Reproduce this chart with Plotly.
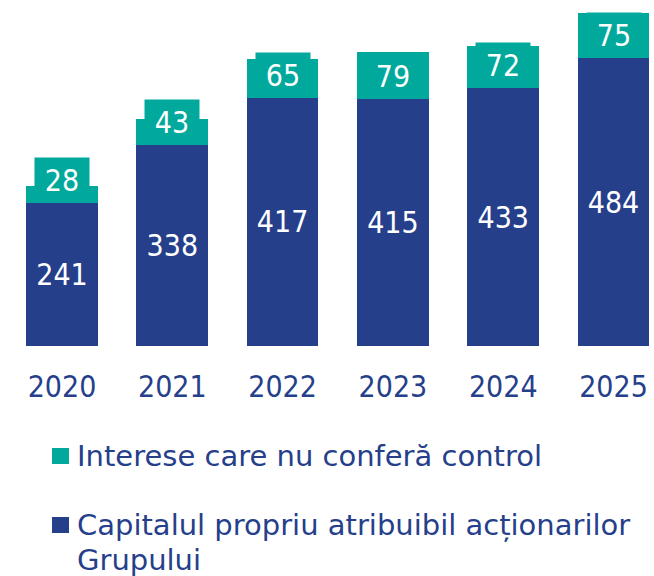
import plotly.graph_objects as go

years = ["2020", "2021", "2022", "2023", "2024", "2025"]
equity_group = [241, 338, 417, 415, 433, 484]
non_controlling = [28, 43, 65, 79, 72, 75]

legend_names = ["Interese care nu conferă control",
                "Capitalul propriu atribuibil acționarilor<br>Grupului"]

NAVY = "#263F8B"
TEAL = "#00A99C"
FONT = "DejaVu Sans Condensed, Liberation Sans Narrow, DejaVu Sans"
LEGEND_FONT = "DejaVu Sans, Verdana, sans-serif"

W, H = 654, 576
PLOT_BOTTOM = 346  # pixel row of the x axis

fig = go.Figure()
fig.add_trace(go.Bar(
    x=years, y=equity_group, width=0.65, marker_color=NAVY,
    marker_line=dict(width=0),
    text=[str(v) for v in equity_group], textposition="inside",
    insidetextanchor="middle", textangle=0, constraintext="none",
    insidetextfont=dict(color="white", size=30, family=FONT),
    showlegend=False, name=legend_names[1],
))
fig.add_trace(go.Bar(
    x=years, y=non_controlling, width=0.65, marker_color=TEAL,
    marker_line=dict(width=0), showlegend=False, name=legend_names[0],
))

# value boxes on the teal segments (anchored at the segment base)
for i, (base, val) in enumerate(zip(equity_group, non_controlling)):
    fig.add_annotation(
        x=i, y=base, xref="x", yref="y", text=str(val), showarrow=False,
        xanchor="center", yanchor="bottom", bgcolor=TEAL, borderpad=0,
        width=54, height=44, font=dict(color="white", size=30, family=FONT),
    )

# legend drawn as swatches + text below the axis
def px_x(p):
    return p / W

def px_y(p):
    return (PLOT_BOTTOM - p) / PLOT_BOTTOM

legend_rows = [(456, TEAL, legend_names[0]), (525, NAVY, legend_names[1])]
for cy, col, label in legend_rows:
    fig.add_shape(type="rect", xref="paper", yref="paper",
                  x0=px_x(52), x1=px_x(69), y0=px_y(cy - 8), y1=px_y(cy + 8),
                  fillcolor=col, line=dict(width=0))
    for k, line in enumerate(label.split("<br>")):
        fig.add_annotation(x=px_x(75), y=px_y(cy + 35 * k), xref="paper", yref="paper",
                           text=line, showarrow=False, xanchor="left", yanchor="middle",
                           align="left", font=dict(color=NAVY, size=29, family=LEGEND_FONT))

fig.update_layout(
    width=W, height=H, barmode="stack",
    margin=dict(l=0, r=0, t=0, b=H - PLOT_BOTTOM),
    plot_bgcolor="white", paper_bgcolor="white",
    xaxis=dict(type="category", range=[-0.562, 5.367], showgrid=False, zeroline=False,
               showline=False, ticks="outside", ticklen=14, tickcolor="rgba(0,0,0,0)",
               tickfont=dict(color=NAVY, size=30, family=FONT)),
    yaxis=dict(range=[0, 346 / 0.595], visible=False),
)

fig.write_html("out.html")
